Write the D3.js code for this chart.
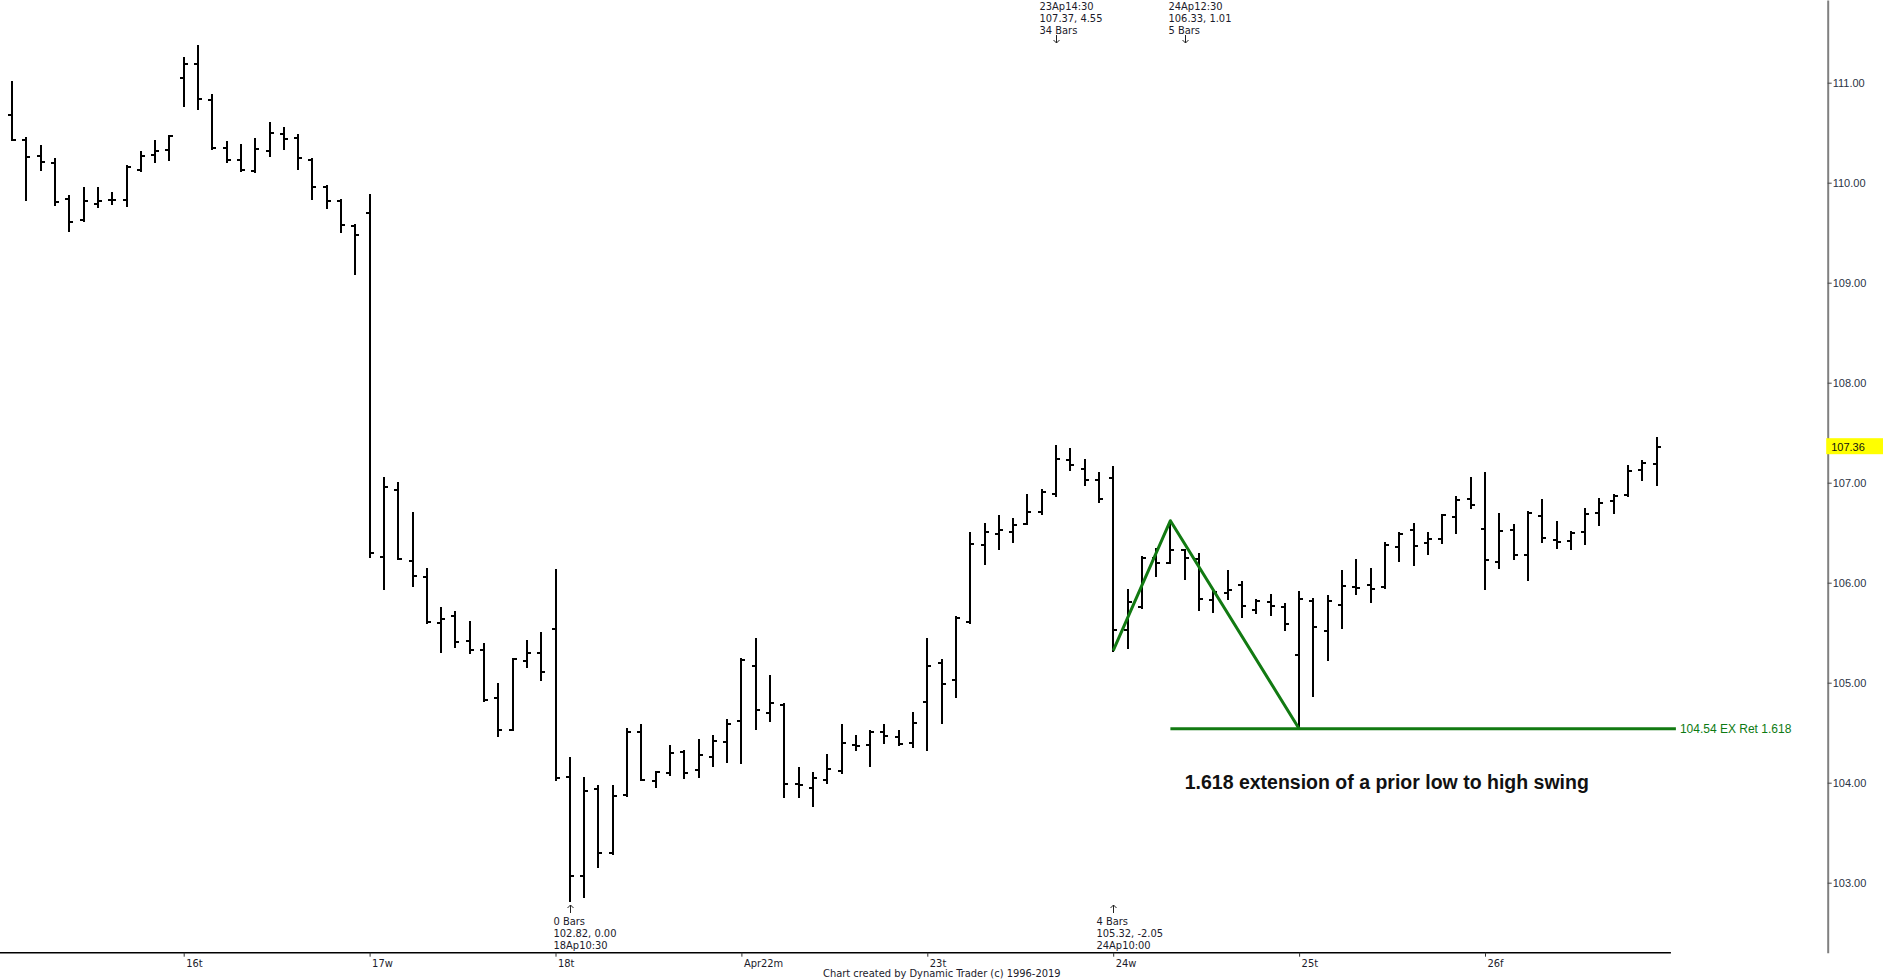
<!DOCTYPE html>
<html>
<head>
<meta charset="utf-8">
<script src="https://d3js.org/d3.v7.min.js"></script>
<style>
  body { margin: 0; background: #fff; overflow: hidden; }
  .small { font-family: Tahoma, "DejaVu Sans Condensed", "DejaVu Sans", sans-serif; font-size: 11px; fill: #1b1b2b; }
  .price { font-family: "Liberation Sans", Arial, sans-serif; font-size: 11px; fill: #2a3345; }
</style>
</head>
<body>
<svg id="chart"></svg>
<script>
// 30 minute bars, 15 Apr 2019 10:30 .. 26 Apr 2019 16:00 (19 Apr closed)
const tradingDays = ['2019-04-15', '2019-04-16', '2019-04-17', '2019-04-18', '2019-04-22',
  '2019-04-23', '2019-04-24', '2019-04-25', '2019-04-26'];
const sessionTimes = ['10:00', '10:30', '11:00', '11:30', '12:00', '12:30', '13:00',
  '13:30', '14:00', '14:30', '15:00', '15:30', '16:00'];
const firstBar = '2019-04-15 10:30';

const open = [
  110.68, 110.43, 110.27, 110.20, 109.84, 109.63, 109.79, 109.83, 109.83, 110.13, 110.28, 110.33,
  111.05, 111.19, 110.83, 110.35, 110.23, 110.12, 110.32, 110.49, 110.45, 110.23, 109.96, 109.82, 109.57,
  109.70, 106.26, 106.93, 106.22, 106.06, 105.60, 105.67, 105.42, 105.33, 104.85, 104.53, 105.22, 105.30,
  105.54, 104.06, 103.07, 103.94, 103.30, 103.88, 104.51, 104.02, 104.10, 104.31, 104.13, 104.26, 104.41,
  104.62, 105.17, 104.70, 104.78, 103.99, 103.95, 104.03, 104.12, 104.38, 104.38, 104.51, 104.46, 104.40,
  104.81, 105.20, 105.03, 105.61, 106.38, 106.49, 106.51, 106.59, 106.71, 106.89, 107.23, 107.14, 107.03,
  107.05, 105.53, 105.76, 106.25, 106.20, 106.33, 106.24, 105.83, 105.90, 105.98, 105.73, 105.81, 105.76,
  105.28, 105.82, 105.52, 105.78, 105.96, 105.98, 105.96, 106.36, 106.53, 106.40, 106.44, 106.66, 106.84,
  106.54, 106.21, 106.53, 106.28, 106.67, 106.43, 106.42, 106.51, 106.70, 106.82, 106.88, 107.13, 107.19
];
const high = [
  111.01, 110.45, 110.37, 110.24, 109.87, 109.95, 109.95, 109.90, 110.17, 110.31, 110.42, 110.47,
  111.25, 111.37, 110.88, 110.41, 110.38, 110.44, 110.60, 110.55, 110.48, 110.24, 109.97, 109.83, 109.58,
  109.88, 107.05, 107.00, 106.70, 106.14, 105.75, 105.71, 105.61, 105.39, 104.99, 105.24, 105.42, 105.50,
  106.13, 104.25, 104.05, 103.97, 103.97, 104.54, 104.58, 104.11, 104.37, 104.32, 104.43, 104.47, 104.63,
  105.24, 105.44, 105.07, 104.79, 104.15, 104.10, 104.28, 104.58, 104.47, 104.52, 104.58, 104.52, 104.70,
  105.44, 105.23, 105.66, 106.50, 106.59, 106.67, 106.64, 106.88, 106.93, 107.37, 107.34, 107.23, 107.10,
  107.16, 105.93, 106.26, 106.34, 106.62, 106.33, 106.29, 105.93, 106.12, 106.01, 105.83, 105.88, 105.79,
  105.91, 105.84, 105.87, 106.12, 106.23, 106.14, 106.40, 106.50, 106.59, 106.50, 106.68, 106.86, 107.05,
  107.10, 106.69, 106.58, 106.71, 106.83, 106.61, 106.51, 106.74, 106.84, 106.88, 107.17, 107.22, 107.45
];
const low = [
  110.43, 109.83, 110.13, 109.78, 109.52, 109.62, 109.76, 109.79, 109.77, 110.12, 110.21, 110.23,
  110.77, 110.74, 110.34, 110.21, 110.12, 110.11, 110.27, 110.34, 110.14, 109.84, 109.75, 109.51, 109.09,
  106.26, 105.94, 106.24, 105.97, 105.60, 105.31, 105.36, 105.30, 104.82, 104.47, 104.53, 105.16, 105.03,
  104.03, 102.82, 102.86, 103.16, 103.29, 103.87, 104.03, 103.96, 104.08, 104.05, 104.06, 104.17, 104.21,
  104.20, 104.54, 104.62, 103.86, 103.86, 103.77, 104.00, 104.10, 104.33, 104.17, 104.40, 104.38, 104.36,
  104.33, 104.60, 104.86, 105.60, 106.19, 106.34, 106.41, 106.59, 106.69, 106.87, 107.13, 106.98, 106.81,
  105.32, 105.35, 105.75, 106.07, 106.20, 106.04, 105.73, 105.71, 105.84, 105.66, 105.70, 105.68, 105.53,
  104.54, 104.87, 105.23, 105.55, 105.89, 105.81, 105.95, 106.22, 106.18, 106.29, 106.40, 106.50, 106.75,
  105.94, 106.15, 106.24, 106.03, 106.41, 106.35, 106.34, 106.39, 106.58, 106.70, 106.87, 107.03, 106.98
];
const close = [
  110.43, 110.26, 110.21, 109.81, 109.61, 109.82, 109.82, 109.83, 110.16, 110.27, 110.32, 110.47,
  111.19, 110.84, 110.35, 110.23, 110.13, 110.34, 110.50, 110.44, 110.25, 109.96, 109.82, 109.58, 109.48,
  106.30, 106.96, 106.24, 106.07, 105.61, 105.64, 105.41, 105.33, 104.83, 104.53, 105.24, 105.30, 105.11,
  104.05, 103.07, 103.92, 103.30, 103.87, 104.51, 104.03, 104.11, 104.30, 104.10, 104.28, 104.42, 104.59,
  105.23, 104.73, 104.80, 103.99, 103.98, 104.05, 104.14, 104.40, 104.37, 104.51, 104.47, 104.39, 104.60,
  105.17, 104.99, 105.65, 106.39, 106.51, 106.53, 106.58, 106.71, 106.91, 107.24, 107.18, 107.03, 106.84,
  105.53, 105.81, 106.25, 106.20, 106.33, 106.25, 105.84, 105.91, 105.93, 105.77, 105.82, 105.77, 105.59,
  105.84, 105.56, 105.82, 105.97, 105.95, 105.94, 106.38, 106.49, 106.37, 106.44, 106.68, 106.83, 106.78,
  106.23, 106.52, 106.28, 106.70, 106.45, 106.41, 106.50, 106.69, 106.80, 106.87, 107.12, 107.20, 107.36
];

const dayTickLabels = ['16t', '17w', '18t', 'Apr22m', '23t', '24w', '25t', '26f'];
const priceTicks = [103, 104, 105, 106, 107, 108, 109, 110, 111];
const lastPrice = 107.36;

// time / price pivots written by the charting program
const topPivots = [
  { bar: '2019-04-23 14:30', lines: ['23Ap14:30', '107.37, 4.55', '34 Bars'] },
  { bar: '2019-04-24 12:30', lines: ['24Ap12:30', '106.33, 1.01', '5 Bars'] }
];
const bottomPivots = [
  { bar: '2019-04-18 10:30', lines: ['0 Bars', '102.82, 0.00', '18Ap10:30'] },
  { bar: '2019-04-24 10:00', lines: ['4 Bars', '105.32, -2.05', '24Ap10:00'] }
];

// swing used for the extension
const swing = [
  { bar: '2019-04-24 10:00', price: 105.32 },
  { bar: '2019-04-24 12:00', price: 106.62 },
  { bar: '2019-04-25 10:00', price: 104.54 }
];
const extLevel = { from: '2019-04-24 12:00', price: 104.54, label: '104.54 EX Ret 1.618' };
const note = '1.618 extension of a prior low to high swing';
const footer = 'Chart created by Dynamic Trader  (c) 1996-2019';

const width = 1883;
const height = 980;

const bars = [];
tradingDays.forEach(day => {
  sessionTimes.forEach(t => {
    const key = `${day} ${t}`;
    if (key >= firstBar) bars.push(key);
  });
});
const barIndex = new Map(bars.map((b, i) => [b, i]));

const axisY = 952.7;   // baseline of the time axis
const axisX = 1827.7;  // price axis

const x = d3.scaleLinear().domain([0, bars.length]).range([12.1, 1670.9]);
const y = d3.scaleLinear().domain([102.3, 111.827]).range([axisY, 0]);

const svg = d3.select('#chart').attr('width', width).attr('height', height);

// ---- bars (open tick left, close tick right)
const barG = svg.append('g').attr('shape-rendering', 'crispEdges').style('stroke', '#000');
const bx = i => Math.round(x(i));

barG
  .selectAll('line.hl')
  .data(bars)
  .enter()
  .append('line')
  .attr('class', 'hl')
  .attr('x1', (d, i) => bx(i))
  .attr('x2', (d, i) => bx(i))
  .attr('y1', (d, i) => y(high[i]) - 1)
  .attr('y2', (d, i) => y(low[i]) + 1)
  .style('stroke-width', 2);

barG
  .selectAll('line.op')
  .data(bars)
  .enter()
  .append('line')
  .attr('class', 'op')
  .attr('x1', (d, i) => bx(i) - 4)
  .attr('x2', (d, i) => bx(i))
  .attr('y1', (d, i) => y(open[i]))
  .attr('y2', (d, i) => y(open[i]))
  .style('stroke-width', 2);

barG
  .selectAll('line.cl')
  .data(bars)
  .enter()
  .append('line')
  .attr('class', 'cl')
  .attr('x1', (d, i) => bx(i))
  .attr('x2', (d, i) => bx(i) + 4)
  .attr('y1', (d, i) => y(close[i]))
  .attr('y2', (d, i) => y(close[i]))
  .style('stroke-width', 2);

// ---- extension drawing
const green = '#127a12';
const swingLine = d3
  .line()
  .x(d => x(barIndex.get(d.bar)))
  .y(d => y(d.price));

svg
  .append('path')
  .datum(swing)
  .attr('d', swingLine)
  .style('fill', 'none')
  .style('stroke', green)
  .style('stroke-width', 3)
  .style('stroke-linejoin', 'round');

const extEnd = x(bars.length) + 5;
svg
  .append('line')
  .attr('x1', x(barIndex.get(extLevel.from)))
  .attr('x2', extEnd)
  .attr('y1', y(extLevel.price))
  .attr('y2', y(extLevel.price))
  .style('stroke', green)
  .style('stroke-width', 3);

svg
  .append('text')
  .attr('x', extEnd + 4)
  .attr('y', y(extLevel.price))
  .attr('dy', '0.35em')
  .style('font-family', '"Liberation Sans", Arial, sans-serif')
  .style('font-size', '12px')
  .style('fill', '#0c7a12')
  .text(extLevel.label);

svg
  .append('text')
  .attr('x', 1184.7)
  .attr('y', 789)
  .style('font-family', '"Liberation Sans", Arial, sans-serif')
  .style('font-weight', 'bold')
  .style('font-size', '19.5px')
  .style('fill', '#111')
  .text(note);

// ---- pivot annotations
const arrowStyle = sel => sel.style('fill', 'none').style('stroke', '#222').style('stroke-width', 1);

topPivots.forEach(p => {
  const px = bx(barIndex.get(p.bar));
  p.lines.forEach((t, k) => {
    svg.append('text').attr('class', 'small').attr('x', px - 16.5).attr('y', 10 + k * 12).text(t);
  });
  svg
    .append('path')
    .attr('d', `M${px + 0.5},35V43M${px - 2.5},40L${px + 0.5},43L${px + 3.5},40`)
    .call(arrowStyle);
});

bottomPivots.forEach(p => {
  const px = bx(barIndex.get(p.bar));
  svg
    .append('path')
    .attr('d', `M${px + 0.5},905V913M${px - 2.5},908L${px + 0.5},905L${px + 3.5},908`)
    .call(arrowStyle);
  p.lines.forEach((t, k) => {
    svg.append('text').attr('class', 'small').attr('x', px - 16.5).attr('y', 925 + k * 12).text(t);
  });
});

// ---- time axis
const dayStarts = bars.map((b, i) => (b.endsWith(' 10:00') ? i : -1)).filter(i => i >= 0);

svg
  .append('line')
  .attr('x1', 0)
  .attr('x2', x(bars.length))
  .attr('y1', axisY)
  .attr('y2', axisY)
  .style('stroke', '#000')
  .style('stroke-width', 1.5);

const xAxis = d3
  .axisBottom(x)
  .tickValues(dayStarts)
  .tickFormat((d, i) => dayTickLabels[i])
  .tickSize(4)
  .tickSizeOuter(0)
  .tickPadding(3);

const xg = svg.append('g').attr('transform', `translate(0,${axisY})`).call(xAxis);
xg.select('.domain').remove();
xg.selectAll('.tick line').style('stroke', '#333');
xg.selectAll('.tick text')
  .attr('class', 'small')
  .attr('text-anchor', 'start')
  .attr('x', 2)
  .attr('font-family', null)
  .attr('font-size', null)
  .attr('fill', null);

// ---- price axis
const yAxis = d3
  .axisRight(y)
  .tickValues(priceTicks)
  .tickFormat(d3.format('.2f'))
  .tickSize(4)
  .tickSizeOuter(0)
  .tickPadding(1);

const yg = svg.append('g').attr('transform', `translate(${axisX},0)`).call(yAxis);
yg.select('.domain').style('stroke', '#808080').style('stroke-width', 2);
yg.selectAll('.tick line').style('stroke', '#444');
yg.selectAll('.tick text')
  .attr('class', 'price')
  .attr('font-family', null)
  .attr('font-size', null)
  .attr('fill', null);

// last price marker
svg
  .append('rect')
  .attr('x', axisX - 1.5)
  .attr('y', y(lastPrice) - 8.5)
  .attr('width', width - axisX + 1.5)
  .attr('height', 16)
  .style('fill', '#ffff00');

svg
  .append('text')
  .attr('class', 'price')
  .attr('x', axisX + 3.5)
  .attr('y', y(lastPrice))
  .attr('dy', '0.35em')
  .style('fill', '#111')
  .text(lastPrice.toFixed(2));

svg.append('text').attr('class', 'small').attr('x', 823).attr('y', 977).text(footer);
</script>
</body>
</html>
